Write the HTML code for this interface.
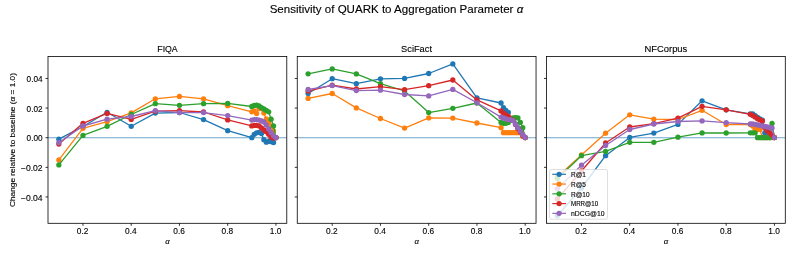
<!DOCTYPE html>
<html><head><meta charset="utf-8"><style>html,body{margin:0;padding:0;background:#fff;width:793px;height:254px;overflow:hidden}</style></head><body>
<svg width="793" height="254" viewBox="0 0 793 254" style="display:block;will-change:transform">
<rect x="0" y="0" width="793" height="254" fill="#fff"/>
<g font-family='"Liberation Sans", sans-serif' fill="#000">
<text x="396.45" y="12.80" font-size="11.3" text-anchor="middle" stroke="#000" stroke-width="0.12" textLength="253.60" lengthAdjust="spacingAndGlyphs">Sensitivity of QUARK to Aggregation Parameter <tspan font-style="italic">α</tspan></text>
</g>
<clipPath id="clip0"><rect x="48.00" y="56.40" width="238.79" height="166.90"/></clipPath>
<g clip-path="url(#clip0)">
<line x1="48.00" y1="137.70" x2="286.78" y2="137.70" stroke="#1f77b4" stroke-opacity="0.65" stroke-width="1.1"/>
<polyline points="58.85,139.20 82.97,126.50 107.09,112.30 131.21,126.30 155.33,113.10 179.45,112.50 203.57,119.60 227.69,130.70 251.81,137.70 254.22,134.30 256.63,132.80 259.05,132.30 261.46,133.50 263.87,139.70 266.28,142.20 268.69,141.20 271.11,141.70 273.52,142.60 275.93,137.60" fill="none" stroke="#1f77b4" stroke-width="1.3" stroke-linejoin="round"/>
<circle cx="58.85" cy="139.20" r="2.65" fill="#1f77b4"/>
<circle cx="82.97" cy="126.50" r="2.65" fill="#1f77b4"/>
<circle cx="107.09" cy="112.30" r="2.65" fill="#1f77b4"/>
<circle cx="131.21" cy="126.30" r="2.65" fill="#1f77b4"/>
<circle cx="155.33" cy="113.10" r="2.65" fill="#1f77b4"/>
<circle cx="179.45" cy="112.50" r="2.65" fill="#1f77b4"/>
<circle cx="203.57" cy="119.60" r="2.65" fill="#1f77b4"/>
<circle cx="227.69" cy="130.70" r="2.65" fill="#1f77b4"/>
<circle cx="251.81" cy="137.70" r="2.65" fill="#1f77b4"/>
<circle cx="254.22" cy="134.30" r="2.65" fill="#1f77b4"/>
<circle cx="256.63" cy="132.80" r="2.65" fill="#1f77b4"/>
<circle cx="259.05" cy="132.30" r="2.65" fill="#1f77b4"/>
<circle cx="261.46" cy="133.50" r="2.65" fill="#1f77b4"/>
<circle cx="263.87" cy="139.70" r="2.65" fill="#1f77b4"/>
<circle cx="266.28" cy="142.20" r="2.65" fill="#1f77b4"/>
<circle cx="268.69" cy="141.20" r="2.65" fill="#1f77b4"/>
<circle cx="271.11" cy="141.70" r="2.65" fill="#1f77b4"/>
<circle cx="273.52" cy="142.60" r="2.65" fill="#1f77b4"/>
<circle cx="275.93" cy="137.60" r="2.65" fill="#1f77b4"/>
<polyline points="58.85,159.90 82.97,128.30 107.09,121.70 131.21,112.90 155.33,98.80 179.45,96.40 203.57,98.80 227.69,105.70 251.81,111.80 254.22,110.80 256.63,113.60 259.05,108.50 261.46,108.50 263.87,113.00 266.28,119.00 268.69,122.00 271.11,126.00 273.52,131.00 275.93,137.60" fill="none" stroke="#ff7f0e" stroke-width="1.3" stroke-linejoin="round"/>
<circle cx="58.85" cy="159.90" r="2.65" fill="#ff7f0e"/>
<circle cx="82.97" cy="128.30" r="2.65" fill="#ff7f0e"/>
<circle cx="107.09" cy="121.70" r="2.65" fill="#ff7f0e"/>
<circle cx="131.21" cy="112.90" r="2.65" fill="#ff7f0e"/>
<circle cx="155.33" cy="98.80" r="2.65" fill="#ff7f0e"/>
<circle cx="179.45" cy="96.40" r="2.65" fill="#ff7f0e"/>
<circle cx="203.57" cy="98.80" r="2.65" fill="#ff7f0e"/>
<circle cx="227.69" cy="105.70" r="2.65" fill="#ff7f0e"/>
<circle cx="251.81" cy="111.80" r="2.65" fill="#ff7f0e"/>
<circle cx="254.22" cy="110.80" r="2.65" fill="#ff7f0e"/>
<circle cx="256.63" cy="113.60" r="2.65" fill="#ff7f0e"/>
<circle cx="259.05" cy="108.50" r="2.65" fill="#ff7f0e"/>
<circle cx="261.46" cy="108.50" r="2.65" fill="#ff7f0e"/>
<circle cx="263.87" cy="113.00" r="2.65" fill="#ff7f0e"/>
<circle cx="266.28" cy="119.00" r="2.65" fill="#ff7f0e"/>
<circle cx="268.69" cy="122.00" r="2.65" fill="#ff7f0e"/>
<circle cx="271.11" cy="126.00" r="2.65" fill="#ff7f0e"/>
<circle cx="273.52" cy="131.00" r="2.65" fill="#ff7f0e"/>
<circle cx="275.93" cy="137.60" r="2.65" fill="#ff7f0e"/>
<polyline points="58.85,164.90 82.97,135.40 107.09,126.30 131.21,114.50 155.33,103.70 179.45,105.30 203.57,103.70 227.69,103.40 251.81,106.50 254.22,105.40 256.63,105.10 259.05,106.00 261.46,107.70 263.87,109.00 266.28,110.40 268.69,111.80 271.11,119.20 273.52,125.90 275.93,137.60" fill="none" stroke="#2ca02c" stroke-width="1.3" stroke-linejoin="round"/>
<circle cx="58.85" cy="164.90" r="2.65" fill="#2ca02c"/>
<circle cx="82.97" cy="135.40" r="2.65" fill="#2ca02c"/>
<circle cx="107.09" cy="126.30" r="2.65" fill="#2ca02c"/>
<circle cx="131.21" cy="114.50" r="2.65" fill="#2ca02c"/>
<circle cx="155.33" cy="103.70" r="2.65" fill="#2ca02c"/>
<circle cx="179.45" cy="105.30" r="2.65" fill="#2ca02c"/>
<circle cx="203.57" cy="103.70" r="2.65" fill="#2ca02c"/>
<circle cx="227.69" cy="103.40" r="2.65" fill="#2ca02c"/>
<circle cx="251.81" cy="106.50" r="2.65" fill="#2ca02c"/>
<circle cx="254.22" cy="105.40" r="2.65" fill="#2ca02c"/>
<circle cx="256.63" cy="105.10" r="2.65" fill="#2ca02c"/>
<circle cx="259.05" cy="106.00" r="2.65" fill="#2ca02c"/>
<circle cx="261.46" cy="107.70" r="2.65" fill="#2ca02c"/>
<circle cx="263.87" cy="109.00" r="2.65" fill="#2ca02c"/>
<circle cx="266.28" cy="110.40" r="2.65" fill="#2ca02c"/>
<circle cx="268.69" cy="111.80" r="2.65" fill="#2ca02c"/>
<circle cx="271.11" cy="119.20" r="2.65" fill="#2ca02c"/>
<circle cx="273.52" cy="125.90" r="2.65" fill="#2ca02c"/>
<circle cx="275.93" cy="137.60" r="2.65" fill="#2ca02c"/>
<polyline points="58.85,144.10 82.97,123.30 107.09,113.40 131.21,119.40 155.33,111.20 179.45,110.60 203.57,112.00 227.69,119.90 251.81,125.90 254.22,125.40 256.63,125.40 259.05,125.90 261.46,127.90 263.87,129.90 266.28,131.80 268.69,134.30 271.11,137.20 273.52,138.00 275.93,137.60" fill="none" stroke="#d62728" stroke-width="1.3" stroke-linejoin="round"/>
<circle cx="58.85" cy="144.10" r="2.65" fill="#d62728"/>
<circle cx="82.97" cy="123.30" r="2.65" fill="#d62728"/>
<circle cx="107.09" cy="113.40" r="2.65" fill="#d62728"/>
<circle cx="131.21" cy="119.40" r="2.65" fill="#d62728"/>
<circle cx="155.33" cy="111.20" r="2.65" fill="#d62728"/>
<circle cx="179.45" cy="110.60" r="2.65" fill="#d62728"/>
<circle cx="203.57" cy="112.00" r="2.65" fill="#d62728"/>
<circle cx="227.69" cy="119.90" r="2.65" fill="#d62728"/>
<circle cx="251.81" cy="125.90" r="2.65" fill="#d62728"/>
<circle cx="254.22" cy="125.40" r="2.65" fill="#d62728"/>
<circle cx="256.63" cy="125.40" r="2.65" fill="#d62728"/>
<circle cx="259.05" cy="125.90" r="2.65" fill="#d62728"/>
<circle cx="261.46" cy="127.90" r="2.65" fill="#d62728"/>
<circle cx="263.87" cy="129.90" r="2.65" fill="#d62728"/>
<circle cx="266.28" cy="131.80" r="2.65" fill="#d62728"/>
<circle cx="268.69" cy="134.30" r="2.65" fill="#d62728"/>
<circle cx="271.11" cy="137.20" r="2.65" fill="#d62728"/>
<circle cx="273.52" cy="138.00" r="2.65" fill="#d62728"/>
<circle cx="275.93" cy="137.60" r="2.65" fill="#d62728"/>
<polyline points="58.85,142.70 82.97,126.00 107.09,119.20 131.21,116.50 155.33,110.60 179.45,112.60 203.57,112.60 227.69,115.60 251.81,120.10 254.22,119.60 256.63,119.60 259.05,120.10 261.46,121.00 263.87,122.00 266.28,125.00 268.69,129.00 271.11,132.50 273.52,135.80 275.93,137.70" fill="none" stroke="#9467bd" stroke-width="1.3" stroke-linejoin="round"/>
<circle cx="58.85" cy="142.70" r="2.65" fill="#9467bd"/>
<circle cx="82.97" cy="126.00" r="2.65" fill="#9467bd"/>
<circle cx="107.09" cy="119.20" r="2.65" fill="#9467bd"/>
<circle cx="131.21" cy="116.50" r="2.65" fill="#9467bd"/>
<circle cx="155.33" cy="110.60" r="2.65" fill="#9467bd"/>
<circle cx="179.45" cy="112.60" r="2.65" fill="#9467bd"/>
<circle cx="203.57" cy="112.60" r="2.65" fill="#9467bd"/>
<circle cx="227.69" cy="115.60" r="2.65" fill="#9467bd"/>
<circle cx="251.81" cy="120.10" r="2.65" fill="#9467bd"/>
<circle cx="254.22" cy="119.60" r="2.65" fill="#9467bd"/>
<circle cx="256.63" cy="119.60" r="2.65" fill="#9467bd"/>
<circle cx="259.05" cy="120.10" r="2.65" fill="#9467bd"/>
<circle cx="261.46" cy="121.00" r="2.65" fill="#9467bd"/>
<circle cx="263.87" cy="122.00" r="2.65" fill="#9467bd"/>
<circle cx="266.28" cy="125.00" r="2.65" fill="#9467bd"/>
<circle cx="268.69" cy="129.00" r="2.65" fill="#9467bd"/>
<circle cx="271.11" cy="132.50" r="2.65" fill="#9467bd"/>
<circle cx="273.52" cy="135.80" r="2.65" fill="#9467bd"/>
<circle cx="275.93" cy="137.70" r="2.65" fill="#9467bd"/>
</g>
<rect x="48.00" y="56.40" width="238.79" height="166.90" fill="none" stroke="#000" stroke-width="0.8"/>
<line x1="82.97" y1="223.30" x2="82.97" y2="225.80" stroke="#000" stroke-width="0.8"/>
<line x1="131.21" y1="223.30" x2="131.21" y2="225.80" stroke="#000" stroke-width="0.8"/>
<line x1="179.45" y1="223.30" x2="179.45" y2="225.80" stroke="#000" stroke-width="0.8"/>
<line x1="227.69" y1="223.30" x2="227.69" y2="225.80" stroke="#000" stroke-width="0.8"/>
<line x1="275.93" y1="223.30" x2="275.93" y2="225.80" stroke="#000" stroke-width="0.8"/>
<line x1="45.50" y1="78.44" x2="48.00" y2="78.44" stroke="#000" stroke-width="0.8"/>
<line x1="45.50" y1="108.07" x2="48.00" y2="108.07" stroke="#000" stroke-width="0.8"/>
<line x1="45.50" y1="137.70" x2="48.00" y2="137.70" stroke="#000" stroke-width="0.8"/>
<line x1="45.50" y1="167.33" x2="48.00" y2="167.33" stroke="#000" stroke-width="0.8"/>
<line x1="45.50" y1="196.96" x2="48.00" y2="196.96" stroke="#000" stroke-width="0.8"/>
<g font-family='"Liberation Sans", sans-serif' fill="#000">
<text x="82.67" y="234.00" font-size="8.3" text-anchor="middle" stroke="#000" stroke-width="0.12" textLength="11.60" lengthAdjust="spacingAndGlyphs">0.2</text>
<text x="130.91" y="234.00" font-size="8.3" text-anchor="middle" stroke="#000" stroke-width="0.12" textLength="11.60" lengthAdjust="spacingAndGlyphs">0.4</text>
<text x="179.15" y="234.00" font-size="8.3" text-anchor="middle" stroke="#000" stroke-width="0.12" textLength="11.60" lengthAdjust="spacingAndGlyphs">0.6</text>
<text x="227.39" y="234.00" font-size="8.3" text-anchor="middle" stroke="#000" stroke-width="0.12" textLength="11.60" lengthAdjust="spacingAndGlyphs">0.8</text>
<text x="275.63" y="234.00" font-size="8.3" text-anchor="middle" stroke="#000" stroke-width="0.12" textLength="11.60" lengthAdjust="spacingAndGlyphs">1.0</text>
<text x="42.60" y="82.04" font-size="8.3" text-anchor="end" stroke="#000" stroke-width="0.12" textLength="16.00" lengthAdjust="spacingAndGlyphs">0.04</text>
<text x="42.60" y="111.67" font-size="8.3" text-anchor="end" stroke="#000" stroke-width="0.12" textLength="16.00" lengthAdjust="spacingAndGlyphs">0.02</text>
<text x="42.60" y="141.30" font-size="8.3" text-anchor="end" stroke="#000" stroke-width="0.12" textLength="16.00" lengthAdjust="spacingAndGlyphs">0.00</text>
<text x="42.60" y="170.93" font-size="8.3" text-anchor="end" stroke="#000" stroke-width="0.12" textLength="21.70" lengthAdjust="spacingAndGlyphs">−0.02</text>
<text x="42.60" y="200.56" font-size="8.3" text-anchor="end" stroke="#000" stroke-width="0.12" textLength="21.70" lengthAdjust="spacingAndGlyphs">−0.04</text>
<text x="167.50" y="51.50" font-size="9.0" text-anchor="middle" stroke="#000" stroke-width="0.12" textLength="20.40" lengthAdjust="spacingAndGlyphs">FIQA</text>
<text x="167.39" y="243.8" font-size="7.8" font-style="italic" text-anchor="middle" stroke="#000" stroke-width="0.12">α</text>
</g>
<clipPath id="clip1"><rect x="297.25" y="56.40" width="238.79" height="166.90"/></clipPath>
<g clip-path="url(#clip1)">
<line x1="297.25" y1="137.70" x2="536.03" y2="137.70" stroke="#1f77b4" stroke-opacity="0.65" stroke-width="1.1"/>
<polyline points="308.10,93.50 332.22,78.70 356.34,83.70 380.46,78.80 404.58,78.40 428.70,73.50 452.82,63.90 476.94,97.90 501.06,103.00 503.47,107.70 505.88,110.50 508.30,112.40 510.71,118.50 513.12,120.00 515.53,124.00 517.94,128.00 520.36,131.50 522.77,135.00 525.18,137.60" fill="none" stroke="#1f77b4" stroke-width="1.3" stroke-linejoin="round"/>
<circle cx="308.10" cy="93.50" r="2.65" fill="#1f77b4"/>
<circle cx="332.22" cy="78.70" r="2.65" fill="#1f77b4"/>
<circle cx="356.34" cy="83.70" r="2.65" fill="#1f77b4"/>
<circle cx="380.46" cy="78.80" r="2.65" fill="#1f77b4"/>
<circle cx="404.58" cy="78.40" r="2.65" fill="#1f77b4"/>
<circle cx="428.70" cy="73.50" r="2.65" fill="#1f77b4"/>
<circle cx="452.82" cy="63.90" r="2.65" fill="#1f77b4"/>
<circle cx="476.94" cy="97.90" r="2.65" fill="#1f77b4"/>
<circle cx="501.06" cy="103.00" r="2.65" fill="#1f77b4"/>
<circle cx="503.47" cy="107.70" r="2.65" fill="#1f77b4"/>
<circle cx="505.88" cy="110.50" r="2.65" fill="#1f77b4"/>
<circle cx="508.30" cy="112.40" r="2.65" fill="#1f77b4"/>
<circle cx="510.71" cy="118.50" r="2.65" fill="#1f77b4"/>
<circle cx="513.12" cy="120.00" r="2.65" fill="#1f77b4"/>
<circle cx="515.53" cy="124.00" r="2.65" fill="#1f77b4"/>
<circle cx="517.94" cy="128.00" r="2.65" fill="#1f77b4"/>
<circle cx="520.36" cy="131.50" r="2.65" fill="#1f77b4"/>
<circle cx="522.77" cy="135.00" r="2.65" fill="#1f77b4"/>
<circle cx="525.18" cy="137.60" r="2.65" fill="#1f77b4"/>
<polyline points="308.10,98.40 332.22,93.50 356.34,107.90 380.46,118.50 404.58,128.10 428.70,117.90 452.82,118.10 476.94,123.00 501.06,127.70 503.47,132.70 505.88,132.70 508.30,132.70 510.71,132.70 513.12,132.70 515.53,132.70 517.94,132.70 520.36,132.70 522.77,136.50 525.18,137.60" fill="none" stroke="#ff7f0e" stroke-width="1.3" stroke-linejoin="round"/>
<circle cx="308.10" cy="98.40" r="2.65" fill="#ff7f0e"/>
<circle cx="332.22" cy="93.50" r="2.65" fill="#ff7f0e"/>
<circle cx="356.34" cy="107.90" r="2.65" fill="#ff7f0e"/>
<circle cx="380.46" cy="118.50" r="2.65" fill="#ff7f0e"/>
<circle cx="404.58" cy="128.10" r="2.65" fill="#ff7f0e"/>
<circle cx="428.70" cy="117.90" r="2.65" fill="#ff7f0e"/>
<circle cx="452.82" cy="118.10" r="2.65" fill="#ff7f0e"/>
<circle cx="476.94" cy="123.00" r="2.65" fill="#ff7f0e"/>
<circle cx="501.06" cy="127.70" r="2.65" fill="#ff7f0e"/>
<circle cx="503.47" cy="132.70" r="2.65" fill="#ff7f0e"/>
<circle cx="505.88" cy="132.70" r="2.65" fill="#ff7f0e"/>
<circle cx="508.30" cy="132.70" r="2.65" fill="#ff7f0e"/>
<circle cx="510.71" cy="132.70" r="2.65" fill="#ff7f0e"/>
<circle cx="513.12" cy="132.70" r="2.65" fill="#ff7f0e"/>
<circle cx="515.53" cy="132.70" r="2.65" fill="#ff7f0e"/>
<circle cx="517.94" cy="132.70" r="2.65" fill="#ff7f0e"/>
<circle cx="520.36" cy="132.70" r="2.65" fill="#ff7f0e"/>
<circle cx="522.77" cy="136.50" r="2.65" fill="#ff7f0e"/>
<circle cx="525.18" cy="137.60" r="2.65" fill="#ff7f0e"/>
<polyline points="308.10,73.80 332.22,68.90 356.34,73.90 380.46,83.70 404.58,91.00 428.70,112.60 452.82,108.30 476.94,103.00 501.06,122.40 503.47,123.30 505.88,123.30 508.30,122.40 510.71,119.70 513.12,118.00 515.53,117.60 517.94,118.00 520.36,122.40 522.77,127.70 525.18,137.60" fill="none" stroke="#2ca02c" stroke-width="1.3" stroke-linejoin="round"/>
<circle cx="308.10" cy="73.80" r="2.65" fill="#2ca02c"/>
<circle cx="332.22" cy="68.90" r="2.65" fill="#2ca02c"/>
<circle cx="356.34" cy="73.90" r="2.65" fill="#2ca02c"/>
<circle cx="380.46" cy="83.70" r="2.65" fill="#2ca02c"/>
<circle cx="404.58" cy="91.00" r="2.65" fill="#2ca02c"/>
<circle cx="428.70" cy="112.60" r="2.65" fill="#2ca02c"/>
<circle cx="452.82" cy="108.30" r="2.65" fill="#2ca02c"/>
<circle cx="476.94" cy="103.00" r="2.65" fill="#2ca02c"/>
<circle cx="501.06" cy="122.40" r="2.65" fill="#2ca02c"/>
<circle cx="503.47" cy="123.30" r="2.65" fill="#2ca02c"/>
<circle cx="505.88" cy="123.30" r="2.65" fill="#2ca02c"/>
<circle cx="508.30" cy="122.40" r="2.65" fill="#2ca02c"/>
<circle cx="510.71" cy="119.70" r="2.65" fill="#2ca02c"/>
<circle cx="513.12" cy="118.00" r="2.65" fill="#2ca02c"/>
<circle cx="515.53" cy="117.60" r="2.65" fill="#2ca02c"/>
<circle cx="517.94" cy="118.00" r="2.65" fill="#2ca02c"/>
<circle cx="520.36" cy="122.40" r="2.65" fill="#2ca02c"/>
<circle cx="522.77" cy="127.70" r="2.65" fill="#2ca02c"/>
<circle cx="525.18" cy="137.60" r="2.65" fill="#2ca02c"/>
<polyline points="308.10,91.10 332.22,85.20 356.34,89.00 380.46,86.70 404.58,89.60 428.70,85.70 452.82,80.00 476.94,99.90 501.06,110.90 503.47,113.20 505.88,114.80 508.30,116.50 510.71,119.00 513.12,120.50 515.53,124.50 517.94,128.50 520.36,132.00 522.77,135.50 525.18,137.60" fill="none" stroke="#d62728" stroke-width="1.3" stroke-linejoin="round"/>
<circle cx="308.10" cy="91.10" r="2.65" fill="#d62728"/>
<circle cx="332.22" cy="85.20" r="2.65" fill="#d62728"/>
<circle cx="356.34" cy="89.00" r="2.65" fill="#d62728"/>
<circle cx="380.46" cy="86.70" r="2.65" fill="#d62728"/>
<circle cx="404.58" cy="89.60" r="2.65" fill="#d62728"/>
<circle cx="428.70" cy="85.70" r="2.65" fill="#d62728"/>
<circle cx="452.82" cy="80.00" r="2.65" fill="#d62728"/>
<circle cx="476.94" cy="99.90" r="2.65" fill="#d62728"/>
<circle cx="501.06" cy="110.90" r="2.65" fill="#d62728"/>
<circle cx="503.47" cy="113.20" r="2.65" fill="#d62728"/>
<circle cx="505.88" cy="114.80" r="2.65" fill="#d62728"/>
<circle cx="508.30" cy="116.50" r="2.65" fill="#d62728"/>
<circle cx="510.71" cy="119.00" r="2.65" fill="#d62728"/>
<circle cx="513.12" cy="120.50" r="2.65" fill="#d62728"/>
<circle cx="515.53" cy="124.50" r="2.65" fill="#d62728"/>
<circle cx="517.94" cy="128.50" r="2.65" fill="#d62728"/>
<circle cx="520.36" cy="132.00" r="2.65" fill="#d62728"/>
<circle cx="522.77" cy="135.50" r="2.65" fill="#d62728"/>
<circle cx="525.18" cy="137.60" r="2.65" fill="#d62728"/>
<polyline points="308.10,89.50 332.22,85.60 356.34,90.60 380.46,90.20 404.58,94.50 428.70,95.90 452.82,89.40 476.94,102.80 501.06,117.10 503.47,118.00 505.88,118.90 508.30,119.70 510.71,119.70 513.12,120.60 515.53,124.20 517.94,127.70 520.36,131.20 522.77,134.80 525.18,137.40" fill="none" stroke="#9467bd" stroke-width="1.3" stroke-linejoin="round"/>
<circle cx="308.10" cy="89.50" r="2.65" fill="#9467bd"/>
<circle cx="332.22" cy="85.60" r="2.65" fill="#9467bd"/>
<circle cx="356.34" cy="90.60" r="2.65" fill="#9467bd"/>
<circle cx="380.46" cy="90.20" r="2.65" fill="#9467bd"/>
<circle cx="404.58" cy="94.50" r="2.65" fill="#9467bd"/>
<circle cx="428.70" cy="95.90" r="2.65" fill="#9467bd"/>
<circle cx="452.82" cy="89.40" r="2.65" fill="#9467bd"/>
<circle cx="476.94" cy="102.80" r="2.65" fill="#9467bd"/>
<circle cx="501.06" cy="117.10" r="2.65" fill="#9467bd"/>
<circle cx="503.47" cy="118.00" r="2.65" fill="#9467bd"/>
<circle cx="505.88" cy="118.90" r="2.65" fill="#9467bd"/>
<circle cx="508.30" cy="119.70" r="2.65" fill="#9467bd"/>
<circle cx="510.71" cy="119.70" r="2.65" fill="#9467bd"/>
<circle cx="513.12" cy="120.60" r="2.65" fill="#9467bd"/>
<circle cx="515.53" cy="124.20" r="2.65" fill="#9467bd"/>
<circle cx="517.94" cy="127.70" r="2.65" fill="#9467bd"/>
<circle cx="520.36" cy="131.20" r="2.65" fill="#9467bd"/>
<circle cx="522.77" cy="134.80" r="2.65" fill="#9467bd"/>
<circle cx="525.18" cy="137.40" r="2.65" fill="#9467bd"/>
</g>
<rect x="297.25" y="56.40" width="238.79" height="166.90" fill="none" stroke="#000" stroke-width="0.8"/>
<line x1="332.22" y1="223.30" x2="332.22" y2="225.80" stroke="#000" stroke-width="0.8"/>
<line x1="380.46" y1="223.30" x2="380.46" y2="225.80" stroke="#000" stroke-width="0.8"/>
<line x1="428.70" y1="223.30" x2="428.70" y2="225.80" stroke="#000" stroke-width="0.8"/>
<line x1="476.94" y1="223.30" x2="476.94" y2="225.80" stroke="#000" stroke-width="0.8"/>
<line x1="525.18" y1="223.30" x2="525.18" y2="225.80" stroke="#000" stroke-width="0.8"/>
<line x1="294.75" y1="78.44" x2="297.25" y2="78.44" stroke="#000" stroke-width="0.8"/>
<line x1="294.75" y1="108.07" x2="297.25" y2="108.07" stroke="#000" stroke-width="0.8"/>
<line x1="294.75" y1="137.70" x2="297.25" y2="137.70" stroke="#000" stroke-width="0.8"/>
<line x1="294.75" y1="167.33" x2="297.25" y2="167.33" stroke="#000" stroke-width="0.8"/>
<line x1="294.75" y1="196.96" x2="297.25" y2="196.96" stroke="#000" stroke-width="0.8"/>
<g font-family='"Liberation Sans", sans-serif' fill="#000">
<text x="331.92" y="234.00" font-size="8.3" text-anchor="middle" stroke="#000" stroke-width="0.12" textLength="11.60" lengthAdjust="spacingAndGlyphs">0.2</text>
<text x="380.16" y="234.00" font-size="8.3" text-anchor="middle" stroke="#000" stroke-width="0.12" textLength="11.60" lengthAdjust="spacingAndGlyphs">0.4</text>
<text x="428.40" y="234.00" font-size="8.3" text-anchor="middle" stroke="#000" stroke-width="0.12" textLength="11.60" lengthAdjust="spacingAndGlyphs">0.6</text>
<text x="476.64" y="234.00" font-size="8.3" text-anchor="middle" stroke="#000" stroke-width="0.12" textLength="11.60" lengthAdjust="spacingAndGlyphs">0.8</text>
<text x="524.88" y="234.00" font-size="8.3" text-anchor="middle" stroke="#000" stroke-width="0.12" textLength="11.60" lengthAdjust="spacingAndGlyphs">1.0</text>
<text x="416.55" y="51.50" font-size="9.0" text-anchor="middle" stroke="#000" stroke-width="0.12" textLength="30.90" lengthAdjust="spacingAndGlyphs">SciFact</text>
<text x="416.64" y="243.8" font-size="7.8" font-style="italic" text-anchor="middle" stroke="#000" stroke-width="0.12">α</text>
</g>
<clipPath id="clip2"><rect x="546.50" y="56.40" width="238.79" height="166.90"/></clipPath>
<g clip-path="url(#clip2)">
<line x1="546.50" y1="137.70" x2="785.28" y2="137.70" stroke="#1f77b4" stroke-opacity="0.65" stroke-width="1.1"/>
<polyline points="557.35,215.70 581.47,188.00 605.59,155.70 629.71,137.40 653.83,133.10 677.95,124.40 702.07,100.80 726.19,109.80 750.31,113.80 752.72,114.00 755.13,115.60 757.55,117.50 759.96,118.80 762.37,120.20 764.78,132.90 767.19,137.20 769.61,136.00 772.02,137.00 774.43,137.60" fill="none" stroke="#1f77b4" stroke-width="1.3" stroke-linejoin="round"/>
<circle cx="557.35" cy="215.70" r="2.65" fill="#1f77b4"/>
<circle cx="581.47" cy="188.00" r="2.65" fill="#1f77b4"/>
<circle cx="605.59" cy="155.70" r="2.65" fill="#1f77b4"/>
<circle cx="629.71" cy="137.40" r="2.65" fill="#1f77b4"/>
<circle cx="653.83" cy="133.10" r="2.65" fill="#1f77b4"/>
<circle cx="677.95" cy="124.40" r="2.65" fill="#1f77b4"/>
<circle cx="702.07" cy="100.80" r="2.65" fill="#1f77b4"/>
<circle cx="726.19" cy="109.80" r="2.65" fill="#1f77b4"/>
<circle cx="750.31" cy="113.80" r="2.65" fill="#1f77b4"/>
<circle cx="752.72" cy="114.00" r="2.65" fill="#1f77b4"/>
<circle cx="755.13" cy="115.60" r="2.65" fill="#1f77b4"/>
<circle cx="757.55" cy="117.50" r="2.65" fill="#1f77b4"/>
<circle cx="759.96" cy="118.80" r="2.65" fill="#1f77b4"/>
<circle cx="762.37" cy="120.20" r="2.65" fill="#1f77b4"/>
<circle cx="764.78" cy="132.90" r="2.65" fill="#1f77b4"/>
<circle cx="767.19" cy="137.20" r="2.65" fill="#1f77b4"/>
<circle cx="769.61" cy="136.00" r="2.65" fill="#1f77b4"/>
<circle cx="772.02" cy="137.00" r="2.65" fill="#1f77b4"/>
<circle cx="774.43" cy="137.60" r="2.65" fill="#1f77b4"/>
<polyline points="557.35,177.00 581.47,155.00 605.59,133.20 629.71,114.80 653.83,119.10 677.95,119.50 702.07,110.30 726.19,124.50 750.31,124.40 752.72,126.00 755.13,129.30 757.55,129.50 759.96,129.50 762.37,137.60 764.78,137.60 767.19,137.60 769.61,137.60 772.02,137.60 774.43,137.60" fill="none" stroke="#ff7f0e" stroke-width="1.3" stroke-linejoin="round"/>
<circle cx="557.35" cy="177.00" r="2.65" fill="#ff7f0e"/>
<circle cx="581.47" cy="155.00" r="2.65" fill="#ff7f0e"/>
<circle cx="605.59" cy="133.20" r="2.65" fill="#ff7f0e"/>
<circle cx="629.71" cy="114.80" r="2.65" fill="#ff7f0e"/>
<circle cx="653.83" cy="119.10" r="2.65" fill="#ff7f0e"/>
<circle cx="677.95" cy="119.50" r="2.65" fill="#ff7f0e"/>
<circle cx="702.07" cy="110.30" r="2.65" fill="#ff7f0e"/>
<circle cx="726.19" cy="124.50" r="2.65" fill="#ff7f0e"/>
<circle cx="750.31" cy="124.40" r="2.65" fill="#ff7f0e"/>
<circle cx="752.72" cy="126.00" r="2.65" fill="#ff7f0e"/>
<circle cx="755.13" cy="129.30" r="2.65" fill="#ff7f0e"/>
<circle cx="757.55" cy="129.50" r="2.65" fill="#ff7f0e"/>
<circle cx="759.96" cy="129.50" r="2.65" fill="#ff7f0e"/>
<circle cx="762.37" cy="137.60" r="2.65" fill="#ff7f0e"/>
<circle cx="764.78" cy="137.60" r="2.65" fill="#ff7f0e"/>
<circle cx="767.19" cy="137.60" r="2.65" fill="#ff7f0e"/>
<circle cx="769.61" cy="137.60" r="2.65" fill="#ff7f0e"/>
<circle cx="772.02" cy="137.60" r="2.65" fill="#ff7f0e"/>
<circle cx="774.43" cy="137.60" r="2.65" fill="#ff7f0e"/>
<polyline points="557.35,178.50 581.47,155.70 605.59,151.40 629.71,142.30 653.83,142.30 677.95,137.20 702.07,132.90 726.19,133.00 750.31,132.80 752.72,132.80 755.13,132.80 757.55,137.70 759.96,137.70 762.37,137.70 764.78,137.70 767.19,137.70 769.61,137.70 772.02,123.40 774.43,137.60" fill="none" stroke="#2ca02c" stroke-width="1.3" stroke-linejoin="round"/>
<circle cx="557.35" cy="178.50" r="2.65" fill="#2ca02c"/>
<circle cx="581.47" cy="155.70" r="2.65" fill="#2ca02c"/>
<circle cx="605.59" cy="151.40" r="2.65" fill="#2ca02c"/>
<circle cx="629.71" cy="142.30" r="2.65" fill="#2ca02c"/>
<circle cx="653.83" cy="142.30" r="2.65" fill="#2ca02c"/>
<circle cx="677.95" cy="137.20" r="2.65" fill="#2ca02c"/>
<circle cx="702.07" cy="132.90" r="2.65" fill="#2ca02c"/>
<circle cx="726.19" cy="133.00" r="2.65" fill="#2ca02c"/>
<circle cx="750.31" cy="132.80" r="2.65" fill="#2ca02c"/>
<circle cx="752.72" cy="132.80" r="2.65" fill="#2ca02c"/>
<circle cx="755.13" cy="132.80" r="2.65" fill="#2ca02c"/>
<circle cx="757.55" cy="137.70" r="2.65" fill="#2ca02c"/>
<circle cx="759.96" cy="137.70" r="2.65" fill="#2ca02c"/>
<circle cx="762.37" cy="137.70" r="2.65" fill="#2ca02c"/>
<circle cx="764.78" cy="137.70" r="2.65" fill="#2ca02c"/>
<circle cx="767.19" cy="137.70" r="2.65" fill="#2ca02c"/>
<circle cx="769.61" cy="137.70" r="2.65" fill="#2ca02c"/>
<circle cx="772.02" cy="123.40" r="2.65" fill="#2ca02c"/>
<circle cx="774.43" cy="137.60" r="2.65" fill="#2ca02c"/>
<polyline points="557.35,199.00 581.47,171.00 605.59,143.00 629.71,127.00 653.83,123.60 677.95,118.10 702.07,106.30 726.19,109.80 750.31,114.30 752.72,115.60 755.13,117.00 757.55,118.80 759.96,119.90 762.37,121.00 764.78,127.50 767.19,130.70 769.61,132.90 772.02,135.00 774.43,137.60" fill="none" stroke="#d62728" stroke-width="1.3" stroke-linejoin="round"/>
<circle cx="557.35" cy="199.00" r="2.65" fill="#d62728"/>
<circle cx="581.47" cy="171.00" r="2.65" fill="#d62728"/>
<circle cx="605.59" cy="143.00" r="2.65" fill="#d62728"/>
<circle cx="629.71" cy="127.00" r="2.65" fill="#d62728"/>
<circle cx="653.83" cy="123.60" r="2.65" fill="#d62728"/>
<circle cx="677.95" cy="118.10" r="2.65" fill="#d62728"/>
<circle cx="702.07" cy="106.30" r="2.65" fill="#d62728"/>
<circle cx="726.19" cy="109.80" r="2.65" fill="#d62728"/>
<circle cx="750.31" cy="114.30" r="2.65" fill="#d62728"/>
<circle cx="752.72" cy="115.60" r="2.65" fill="#d62728"/>
<circle cx="755.13" cy="117.00" r="2.65" fill="#d62728"/>
<circle cx="757.55" cy="118.80" r="2.65" fill="#d62728"/>
<circle cx="759.96" cy="119.90" r="2.65" fill="#d62728"/>
<circle cx="762.37" cy="121.00" r="2.65" fill="#d62728"/>
<circle cx="764.78" cy="127.50" r="2.65" fill="#d62728"/>
<circle cx="767.19" cy="130.70" r="2.65" fill="#d62728"/>
<circle cx="769.61" cy="132.90" r="2.65" fill="#d62728"/>
<circle cx="772.02" cy="135.00" r="2.65" fill="#d62728"/>
<circle cx="774.43" cy="137.60" r="2.65" fill="#d62728"/>
<polyline points="557.35,188.90 581.47,165.20 605.59,145.50 629.71,129.50 653.83,124.00 677.95,121.50 702.07,120.90 726.19,122.60 750.31,124.00 752.72,124.00 755.13,124.40 757.55,124.90 759.96,125.40 762.37,125.90 764.78,126.50 767.19,127.00 769.61,127.50 772.02,128.00 774.43,137.60" fill="none" stroke="#9467bd" stroke-width="1.3" stroke-linejoin="round"/>
<circle cx="557.35" cy="188.90" r="2.65" fill="#9467bd"/>
<circle cx="581.47" cy="165.20" r="2.65" fill="#9467bd"/>
<circle cx="605.59" cy="145.50" r="2.65" fill="#9467bd"/>
<circle cx="629.71" cy="129.50" r="2.65" fill="#9467bd"/>
<circle cx="653.83" cy="124.00" r="2.65" fill="#9467bd"/>
<circle cx="677.95" cy="121.50" r="2.65" fill="#9467bd"/>
<circle cx="702.07" cy="120.90" r="2.65" fill="#9467bd"/>
<circle cx="726.19" cy="122.60" r="2.65" fill="#9467bd"/>
<circle cx="750.31" cy="124.00" r="2.65" fill="#9467bd"/>
<circle cx="752.72" cy="124.00" r="2.65" fill="#9467bd"/>
<circle cx="755.13" cy="124.40" r="2.65" fill="#9467bd"/>
<circle cx="757.55" cy="124.90" r="2.65" fill="#9467bd"/>
<circle cx="759.96" cy="125.40" r="2.65" fill="#9467bd"/>
<circle cx="762.37" cy="125.90" r="2.65" fill="#9467bd"/>
<circle cx="764.78" cy="126.50" r="2.65" fill="#9467bd"/>
<circle cx="767.19" cy="127.00" r="2.65" fill="#9467bd"/>
<circle cx="769.61" cy="127.50" r="2.65" fill="#9467bd"/>
<circle cx="772.02" cy="128.00" r="2.65" fill="#9467bd"/>
<circle cx="774.43" cy="137.60" r="2.65" fill="#9467bd"/>
</g>
<rect x="546.50" y="56.40" width="238.79" height="166.90" fill="none" stroke="#000" stroke-width="0.8"/>
<line x1="581.47" y1="223.30" x2="581.47" y2="225.80" stroke="#000" stroke-width="0.8"/>
<line x1="629.71" y1="223.30" x2="629.71" y2="225.80" stroke="#000" stroke-width="0.8"/>
<line x1="677.95" y1="223.30" x2="677.95" y2="225.80" stroke="#000" stroke-width="0.8"/>
<line x1="726.19" y1="223.30" x2="726.19" y2="225.80" stroke="#000" stroke-width="0.8"/>
<line x1="774.43" y1="223.30" x2="774.43" y2="225.80" stroke="#000" stroke-width="0.8"/>
<line x1="544.00" y1="78.44" x2="546.50" y2="78.44" stroke="#000" stroke-width="0.8"/>
<line x1="544.00" y1="108.07" x2="546.50" y2="108.07" stroke="#000" stroke-width="0.8"/>
<line x1="544.00" y1="137.70" x2="546.50" y2="137.70" stroke="#000" stroke-width="0.8"/>
<line x1="544.00" y1="167.33" x2="546.50" y2="167.33" stroke="#000" stroke-width="0.8"/>
<line x1="544.00" y1="196.96" x2="546.50" y2="196.96" stroke="#000" stroke-width="0.8"/>
<g font-family='"Liberation Sans", sans-serif' fill="#000">
<text x="581.17" y="234.00" font-size="8.3" text-anchor="middle" stroke="#000" stroke-width="0.12" textLength="11.60" lengthAdjust="spacingAndGlyphs">0.2</text>
<text x="629.41" y="234.00" font-size="8.3" text-anchor="middle" stroke="#000" stroke-width="0.12" textLength="11.60" lengthAdjust="spacingAndGlyphs">0.4</text>
<text x="677.65" y="234.00" font-size="8.3" text-anchor="middle" stroke="#000" stroke-width="0.12" textLength="11.60" lengthAdjust="spacingAndGlyphs">0.6</text>
<text x="725.89" y="234.00" font-size="8.3" text-anchor="middle" stroke="#000" stroke-width="0.12" textLength="11.60" lengthAdjust="spacingAndGlyphs">0.8</text>
<text x="774.13" y="234.00" font-size="8.3" text-anchor="middle" stroke="#000" stroke-width="0.12" textLength="11.60" lengthAdjust="spacingAndGlyphs">1.0</text>
<text x="665.90" y="51.50" font-size="9.0" text-anchor="middle" stroke="#000" stroke-width="0.12" textLength="42.80" lengthAdjust="spacingAndGlyphs">NFCorpus</text>
<text x="665.89" y="243.8" font-size="7.8" font-style="italic" text-anchor="middle" stroke="#000" stroke-width="0.12">α</text>
</g>
<g font-family='"Liberation Sans", sans-serif' fill="#000">
<text transform="translate(15.0,140.0) rotate(-90)" x="0" y="0" font-size="7.6" text-anchor="middle" stroke="#000" stroke-width="0.12" textLength="134" lengthAdjust="spacingAndGlyphs">Change relative to baseline (<tspan font-style="italic">α</tspan> = 1.0)</text>
</g>
<rect x="549.5" y="169.5" width="58.0" height="49.7" rx="1.5" ry="1.5" fill="#fff" fill-opacity="0.8" stroke="#cccccc" stroke-opacity="0.8" stroke-width="0.8"/>
<g font-family='"Liberation Sans", sans-serif' fill="#000">
<line x1="552.3" y1="174.30" x2="566.0" y2="174.30" stroke="#1f77b4" stroke-width="1.2"/>
<circle cx="559.1" cy="174.30" r="2.65" fill="#1f77b4"/>
<text x="571.00" y="177.20" font-size="6.6" text-anchor="start" stroke="#000" stroke-width="0.12" textLength="14.90" lengthAdjust="spacingAndGlyphs">R@1</text>
<line x1="552.3" y1="184.06" x2="566.0" y2="184.06" stroke="#ff7f0e" stroke-width="1.2"/>
<circle cx="559.1" cy="184.06" r="2.65" fill="#ff7f0e"/>
<text x="571.00" y="186.96" font-size="6.6" text-anchor="start" stroke="#000" stroke-width="0.12" textLength="14.90" lengthAdjust="spacingAndGlyphs">R@5</text>
<line x1="552.3" y1="193.82" x2="566.0" y2="193.82" stroke="#2ca02c" stroke-width="1.2"/>
<circle cx="559.1" cy="193.82" r="2.65" fill="#2ca02c"/>
<text x="571.00" y="196.72" font-size="6.6" text-anchor="start" stroke="#000" stroke-width="0.12" textLength="18.60" lengthAdjust="spacingAndGlyphs">R@10</text>
<line x1="552.3" y1="203.58" x2="566.0" y2="203.58" stroke="#d62728" stroke-width="1.2"/>
<circle cx="559.1" cy="203.58" r="2.65" fill="#d62728"/>
<text x="571.00" y="206.48" font-size="6.6" text-anchor="start" stroke="#000" stroke-width="0.12" textLength="27.20" lengthAdjust="spacingAndGlyphs">MRR@10</text>
<line x1="552.3" y1="213.34" x2="566.0" y2="213.34" stroke="#9467bd" stroke-width="1.2"/>
<circle cx="559.1" cy="213.34" r="2.65" fill="#9467bd"/>
<text x="571.00" y="216.24" font-size="6.6" text-anchor="start" stroke="#000" stroke-width="0.12" textLength="33.60" lengthAdjust="spacingAndGlyphs">nDCG@10</text>
</g>
</svg>
</body></html>
